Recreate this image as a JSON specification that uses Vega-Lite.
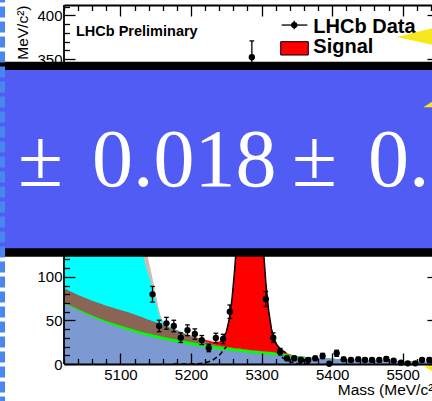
{
"$schema":"https://vega.github.io/schema/vega-lite/v6.json",
"width":374,"height":359,
"autosize":{"type":"none"},
"padding":{"left":64,"top":5,"right":-6,"bottom":37},
"background":"white",
"config":{
  "view":{"stroke":null},
  "axis":{"grid":false,"domainColor":"black","domainWidth":1.8,"tickColor":"black","tickWidth":1.3,"labelColor":"black","titleColor":"black","labelFont":"Liberation Sans","titleFont":"Liberation Sans","labelFontSize":15,"titleFontSize":15.5,"titleFontWeight":"normal","labelOverlap":false,"labelFlush":false}
},
"datasets":{
"curves":[
{"m":5020,"blue":70.0,"green":71.0,"brown":87.0,"cyan":170,"grey":175},
{"m":5040,"blue":61.5,"green":62.8,"brown":79.3,"cyan":195,"grey":200},
{"m":5060,"blue":54.0,"green":55.7,"brown":72.7,"cyan":215,"grey":220},
{"m":5080,"blue":47.4,"green":49.4,"brown":66.9,"cyan":228,"grey":233},
{"m":5100,"blue":41.6,"green":44.1,"brown":62.1,"cyan":230,"grey":236},
{"m":5110,"blue":39.0,"green":41.6,"brown":59.6,"cyan":222,"grey":230},
{"m":5115,"blue":37.8,"green":40.4,"brown":58.2,"cyan":208,"grey":220},
{"m":5120,"blue":36.5,"green":39.2,"brown":56.7,"cyan":188,"grey":204},
{"m":5125,"blue":35.4,"green":38.1,"brown":55.3,"cyan":162,"grey":183},
{"m":5130,"blue":34.2,"green":37.0,"brown":53.8,"cyan":133,"grey":158},
{"m":5133,"blue":33.6,"green":36.4,"brown":53.0,"cyan":121,"grey":144},
{"m":5136,"blue":32.9,"green":35.7,"brown":52.0,"cyan":112,"grey":132},
{"m":5139,"blue":32.3,"green":35.2,"brown":51.2,"cyan":104,"grey":122},
{"m":5142,"blue":31.7,"green":34.6,"brown":50.3,"cyan":97,"grey":111},
{"m":5145,"blue":31.1,"green":34.0,"brown":49.4,"cyan":89,"grey":100},
{"m":5148,"blue":30.5,"green":33.5,"brown":48.6,"cyan":79,"grey":88},
{"m":5151,"blue":29.9,"green":32.9,"brown":47.6,"cyan":68,"grey":76},
{"m":5154,"blue":29.3,"green":32.3,"brown":46.6,"cyan":58,"grey":64},
{"m":5157,"blue":28.7,"green":31.7,"brown":45.7,"cyan":51,"grey":55},
{"m":5160,"blue":28.2,"green":31.2,"brown":44.7,"cyan":47,"grey":49},
{"m":5165,"blue":27.3,"green":30.4,"brown":43.2,"cyan":44.2,"grey":45},
{"m":5170,"blue":26.4,"green":29.6,"brown":41.6,"cyan":42.4,"grey":42.8},
{"m":5175,"blue":25.6,"green":28.8,"brown":40.0,"cyan":40.7,"grey":41.0},
{"m":5180,"blue":24.7,"green":28.0,"brown":38.4,"cyan":39.0,"grey":39.2},
{"m":5190,"blue":23.2,"green":26.6,"brown":35.1,"cyan":35.5,"grey":35.6},
{"m":5195,"blue":22.4,"green":25.9,"brown":33.4,"cyan":33.7,"grey":33.8,"tot":34.1},
{"m":5200,"blue":21.7,"green":25.2,"brown":31.7,"cyan":32.0,"grey":32.1,"tot":32.6},
{"m":5210,"blue":20.4,"green":23.9,"brown":28.4,"cyan":28.6,"grey":28.6,"tot":29.8},
{"m":5220,"blue":19.1,"green":22.6,"brown":25.6,"cyan":25.7,"grey":25.7,"tot":27.7},
{"m":5230,"blue":17.9,"green":21.4,"brown":23.2,"cyan":23.2,"grey":23.2,"tot":25.8},
{"m":5235,"blue":17.3,"green":20.8,"brown":22.1,"cyan":22.1,"grey":22.1,"tot":25.3},
{"m":5240,"blue":16.7,"green":20.2,"brown":21.2,"cyan":21.2,"grey":21.2,"tot":25.8},
{"m":5245,"blue":16.2,"green":19.7,"brown":20.4,"cyan":20.4,"grey":20.4,"tot":28.5},
{"m":5250,"blue":15.7,"green":19.2,"brown":19.7,"cyan":19.7,"grey":19.7,"tot":36.7},
{"m":5254,"blue":15.3,"green":18.8,"brown":19.2,"cyan":19.2,"grey":19.2,"tot":50.5},
{"m":5258,"blue":14.9,"green":18.4,"brown":18.7,"cyan":18.7,"grey":18.7,"tot":73.9},
{"m":5262,"blue":14.5,"green":18.0,"brown":18.2,"cyan":18.2,"grey":18.2,"tot":109.5},
{"m":5266,"blue":14.1,"green":17.6,"brown":17.7,"cyan":17.7,"grey":17.7,"tot":156.7},
{"m":5270,"blue":13.8,"green":17.3,"brown":17.4,"cyan":17.4,"grey":17.4,"tot":212.4},
{"m":5274,"blue":13.4,"green":16.9,"brown":16.9,"cyan":16.9,"grey":16.9,"tot":267.9},
{"m":5278,"blue":13.1,"green":16.6,"brown":16.6,"cyan":16.6,"grey":16.6,"tot":312.6},
{"m":5282,"blue":12.7,"green":16.2,"brown":16.2,"cyan":16.2,"grey":16.2,"tot":335.7},
{"m":5286,"blue":12.4,"green":15.9,"brown":15.9,"cyan":15.9,"grey":15.9,"tot":331.3},
{"m":5290,"blue":12.1,"green":15.6,"brown":15.6,"cyan":15.6,"grey":15.6,"tot":300.9},
{"m":5294,"blue":11.8,"green":15.3,"brown":15.3,"cyan":15.3,"grey":15.3,"tot":251.3},
{"m":5298,"blue":11.5,"green":15.0,"brown":15.0,"cyan":15.0,"grey":15.0,"tot":193.5},
{"m":5302,"blue":11.2,"green":14.7,"brown":14.7,"cyan":14.7,"grey":14.7,"tot":138.3},
{"m":5306,"blue":10.9,"green":14.4,"brown":14.4,"cyan":14.4,"grey":14.4,"tot":93.4},
{"m":5310,"blue":10.6,"green":14.1,"brown":14.1,"cyan":14.1,"grey":14.1,"tot":61.3},
{"m":5314,"blue":10.4,"green":13.9,"brown":13.9,"cyan":13.9,"grey":13.9,"tot":40.2},
{"m":5318,"blue":10.1,"green":13.6,"brown":13.6,"cyan":13.6,"grey":13.6,"tot":28.2},
{"m":5322,"blue":9.8,"green":13.3,"brown":13.3,"cyan":13.3,"grey":13.3,"tot":21.4},
{"m":5326,"blue":9.6,"green":13.1,"brown":13.1,"cyan":13.1,"grey":13.1,"tot":17.7},
{"m":5330,"blue":9.3,"green":12.3,"brown":12.3,"cyan":12.3,"grey":12.3,"tot":15.1},
{"m":5335,"blue":9.0,"green":11.5,"brown":11.5,"cyan":11.5,"grey":11.5,"tot":12.7},
{"m":5340,"blue":8.7,"green":10.7,"brown":10.7,"cyan":10.7,"grey":10.7,"tot":11.2},
{"m":5345,"blue":8.5,"green":10.0,"brown":10.0,"cyan":10.0,"grey":10.0,"tot":10.1},
{"m":5350,"blue":8.2,"green":9.2,"brown":9.2,"cyan":9.2,"grey":9.2},
{"m":5360,"blue":7.7,"green":8.2,"brown":8.2,"cyan":8.2,"grey":8.2},
{"m":5370,"blue":7.2,"green":7.2,"brown":7.2,"cyan":7.2,"grey":7.2},
{"m":5380,"blue":6.7,"green":6.7,"brown":6.7,"cyan":6.7,"grey":6.7},
{"m":5400,"blue":5.9,"green":5.9,"brown":5.9,"cyan":5.9,"grey":5.9},
{"m":5420,"blue":5.2,"green":5.2,"brown":5.2,"cyan":5.2,"grey":5.2},
{"m":5440,"blue":4.5,"green":4.5,"brown":4.5,"cyan":4.5,"grey":4.5},
{"m":5460,"blue":4.0,"green":4.0,"brown":4.0,"cyan":4.0,"grey":4.0},
{"m":5480,"blue":3.5,"green":3.5,"brown":3.5,"cyan":3.5,"grey":3.5},
{"m":5500,"blue":3.1,"green":3.1,"brown":3.1,"cyan":3.1,"grey":3.1},
{"m":5520,"blue":2.7,"green":2.7,"brown":2.7,"cyan":2.7,"grey":2.7},
{"m":5550,"blue":2.2,"green":2.2,"brown":2.2,"cyan":2.2,"grey":2.2}
],
"dash":[
{"m":5175,"d":0},{"m":5190,"d":0.05},{"m":5200,"d":0.1},{"m":5210,"d":0.4},{"m":5220,"d":1.3},{"m":5230,"d":4.0},{"m":5240,"d":9.8},{"m":5250,"d":20},{"m":5260,"d":33.8},{"m":5270,"d":47.4},{"m":5280,"d":55},{"m":5290,"d":53},{"m":5300,"d":42.3},{"m":5310,"d":28},{"m":5320,"d":15.4},{"m":5330,"d":7.0},{"m":5340,"d":2.6},{"m":5350,"d":0.8},{"m":5360,"d":0.2},{"m":5370,"d":0}
],
"pts":[
{"m":5145.4,"v":80,"lo":71,"hi":89},
{"m":5154.8,"v":43.6,"lo":37.0,"hi":50.2},
{"m":5165.2,"v":46.7,"lo":39.9,"hi":53.5},
{"m":5175.6,"v":43.6,"lo":37.0,"hi":50.2},
{"m":5185.5,"v":30.2,"lo":24.7,"hi":35.7},
{"m":5195.0,"v":38.7,"lo":32.5,"hi":44.9},
{"m":5205.4,"v":34.4,"lo":28.5,"hi":40.3},
{"m":5215.3,"v":27.5,"lo":22.3,"hi":32.7},
{"m":5225.2,"v":18.4,"lo":14.1,"hi":22.7},
{"m":5235.2,"v":29.8,"lo":24.3,"hi":35.3},
{"m":5245.5,"v":28.7,"lo":23.3,"hi":34.1},
{"m":5255.0,"v":60.0,"lo":52.3,"hi":67.7},
{"m":5265.5,"v":160,"lo":147.4,"hi":172.6},
{"m":5276.0,"v":270,"lo":253.6,"hi":286.4},
{"m":5286.2,"v":352,"lo":333.2,"hi":370.8},
{"m":5296.0,"v":235,"lo":219.7,"hi":250.3},
{"m":5306.0,"v":74.6,"lo":66.0,"hi":83.2},
{"m":5316.5,"v":30.2,"lo":24.7,"hi":35.7},
{"m":5326.4,"v":14.1,"lo":10.3,"hi":17.9},
{"m":5335.9,"v":6.5,"lo":4.0,"hi":9.0},
{"m":5346.2,"v":6.5,"lo":4.0,"hi":9.0},
{"m":5355.7,"v":4.6,"lo":2.5,"hi":6.7},
{"m":5366.0,"v":4.6,"lo":2.5,"hi":6.7},
{"m":5376.0,"v":6.5,"lo":4.0,"hi":9.0},
{"m":5386.5,"v":9.2,"lo":6.2,"hi":12.2},
{"m":5395.9,"v":0.3,"lo":0,"hi":1.5},
{"m":5406.4,"v":12.3,"lo":8.8,"hi":15.8},
{"m":5416.3,"v":5.4,"lo":3.1,"hi":7.7},
{"m":5426.7,"v":4.6,"lo":2.5,"hi":6.7},
{"m":5437.0,"v":5.4,"lo":3.1,"hi":7.7},
{"m":5446.5,"v":4.6,"lo":2.5,"hi":6.7},
{"m":5456.5,"v":4.6,"lo":2.5,"hi":6.7},
{"m":5466.8,"v":4.6,"lo":2.5,"hi":6.7},
{"m":5476.7,"v":5.7,"lo":3.3,"hi":8.1},
{"m":5487.2,"v":3.8,"lo":1.8,"hi":5.8},
{"m":5497.6,"v":1.5,"lo":0.3,"hi":2.7},
{"m":5507.1,"v":0.8,"lo":0,"hi":1.8},
{"m":5517.9,"v":0.8,"lo":0,"hi":1.8},
{"m":5527.4,"v":4.6,"lo":2.5,"hi":6.7},
{"m":5537.7,"v":4.6,"lo":2.5,"hi":6.7},
{"m":5548.0,"v":3.0,"lo":1.3,"hi":4.7}
],
"one":[{}]
},
"layer":[
{"data":{"name":"curves"},"mark":{"type":"area","color":"#cbbdb4"},
 "encoding":{
  "x":{"field":"m","type":"quantitative","scale":{"domain":[5020,5550],"nice":false,"zero":false},
   "axis":{"orient":"bottom","values":[5100,5200,5300,5400,5500],"format":"d","tickSize":-11,"labelPadding":14,"domain":true,"zindex":1,"title":"Mass (MeV/c²)","titleAnchor":"end","titlePadding":0}},
  "y":{"field":"grey","type":"quantitative","scale":{"domain":[0,412],"nice":false,"zero":false},
   "axis":{"orient":"left","values":[0,50,100,350,400],"tickSize":-11,"labelPadding":13,"domain":false,"zindex":1,"title":null}}}},
{"data":{"name":"curves"},"mark":{"type":"area","color":"#00ffff"},
 "encoding":{
  "x":{"field":"m","type":"quantitative","scale":{"domain":[5020,5550],"nice":false,"zero":false},
   "axis":{"orient":"bottom","values":[5020,5040,5060,5080,5120,5140,5160,5180,5220,5240,5260,5280,5320,5340,5360,5380,5420,5440,5460,5480,5520,5540],"tickSize":-5.5,"labels":false,"domain":false,"zindex":1,"title":null}},
  "y":{"field":"cyan","type":"quantitative","scale":{"domain":[0,412],"nice":false,"zero":false},
   "axis":{"orient":"left","values":[10,20,30,40,60,70,80,90,110,120,360,370,380,390,410],"tickSize":-5.5,"labels":false,"domain":false,"zindex":1,"title":null}}}},
{"data":{"name":"curves"},"mark":{"type":"area","color":"#8a6454"},
 "encoding":{
  "x":{"field":"m","type":"quantitative","scale":{"domain":[5020,5550],"nice":false,"zero":false},
   "axis":{"orient":"top","values":[5100,5200,5300,5400,5500],"tickSize":-11,"labels":false,"domain":true,"zindex":1,"title":null}},
  "y":{"field":"brown","type":"quantitative","scale":{"domain":[0,412],"nice":false,"zero":false},
   "axis":{"orient":"right","values":[0,50,100,350,400],"tickSize":-11,"labels":false,"domain":false,"zindex":1,"title":null}}}},
{"data":{"name":"curves"},"mark":{"type":"area","color":"#00ff00"},
 "encoding":{
  "x":{"field":"m","type":"quantitative","scale":{"domain":[5020,5550],"nice":false,"zero":false},
   "axis":{"orient":"top","values":[5020,5040,5060,5080,5120,5140,5160,5180,5220,5240,5260,5280,5320,5340,5360,5380,5420,5440,5460,5480,5520,5540],"tickSize":-5.5,"labels":false,"domain":false,"zindex":1,"title":null}},
  "y":{"field":"green","type":"quantitative","scale":{"domain":[0,412],"nice":false,"zero":false},
   "axis":{"orient":"right","values":[10,20,30,40,60,70,80,90,110,120,360,370,380,390,410],"tickSize":-5.5,"labels":false,"domain":false,"zindex":1,"title":null}}}},
{"data":{"name":"curves"},"mark":{"type":"area","color":"#7c99d1"},
 "encoding":{
  "x":{"field":"m","type":"quantitative","scale":{"domain":[5020,5550],"nice":false,"zero":false},"axis":null},
  "y":{"field":"blue","type":"quantitative","scale":{"domain":[0,412],"nice":false,"zero":false},
   "axis":{"orient":"left","ticks":false,"labels":false,"domain":false,"zindex":0,"title":"Events / ( 10 MeV/c²)","titleAnchor":"end","titleBaseline":"alphabetic","titlePadding":37}}}},
{"data":{"name":"dash"},"mark":{"type":"line","color":"black","strokeWidth":1.5,"strokeDash":[5,3]},
 "encoding":{
  "x":{"field":"m","type":"quantitative","axis":null},
  "y":{"field":"d","type":"quantitative","axis":null}}},
{"data":{"name":"curves"},"transform":[{"filter":"isValid(datum.tot)"}],"mark":{"type":"area","color":"#ff0000"},
 "encoding":{
  "x":{"field":"m","type":"quantitative","axis":null},
  "y":{"field":"tot","type":"quantitative","axis":null},
  "y2":{"field":"grey"}}},
{"data":{"name":"curves"},"transform":[{"filter":"isValid(datum.tot) && datum.m >= 5245 && datum.m <= 5335"}],"mark":{"type":"line","color":"black","strokeWidth":1.5},
 "encoding":{
  "x":{"field":"m","type":"quantitative","axis":null},
  "y":{"field":"tot","type":"quantitative","axis":null}}},
{"data":{"name":"pts"},"mark":{"type":"rule","color":"black","strokeWidth":1.3},
 "encoding":{
  "x":{"field":"m","type":"quantitative","axis":null},
  "y":{"field":"lo","type":"quantitative","axis":null},
  "y2":{"field":"hi"}}},
{"data":{"name":"pts"},"mark":{"type":"point","shape":"stroke","size":22,"color":"black","strokeWidth":1.3,"opacity":1},
 "encoding":{
  "x":{"field":"m","type":"quantitative","axis":null},
  "y":{"field":"lo","type":"quantitative","axis":null}}},
{"data":{"name":"pts"},"mark":{"type":"point","shape":"stroke","size":22,"color":"black","strokeWidth":1.3,"opacity":1},
 "encoding":{
  "x":{"field":"m","type":"quantitative","axis":null},
  "y":{"field":"hi","type":"quantitative","axis":null}}},
{"data":{"name":"pts"},"mark":{"type":"point","shape":"circle","filled":true,"size":40,"color":"black","opacity":1},
 "encoding":{
  "x":{"field":"m","type":"quantitative","axis":null},
  "y":{"field":"v","type":"quantitative","axis":null}}},
{"data":{"name":"one"},"mark":{"type":"rule","color":"black","strokeWidth":1.8},
 "encoding":{"x":{"datum":5020,"axis":null}}},
{"data":{"name":"one"},"mark":{"type":"rule","color":"black","strokeWidth":1.3},
 "encoding":{"x":{"datum":5328.5,"axis":null},"x2":{"datum":5364.8},"y":{"datum":389.0,"axis":null}}},
{"data":{"name":"one"},"mark":{"type":"rule","color":"black","strokeWidth":1.3},
 "encoding":{"x":{"datum":5346.3,"axis":null},"y":{"datum":384.1,"axis":null},"y2":{"datum":393.9}}},
{"data":{"name":"one"},"mark":{"type":"point","shape":"circle","filled":true,"size":40,"color":"black","opacity":1},
 "encoding":{"x":{"datum":5346.3,"axis":null},"y":{"datum":389.0,"axis":null}}},
{"data":{"name":"one"},"mark":{"type":"rect","fill":"#ff0000","stroke":"black","strokeWidth":1},
 "encoding":{"x":{"datum":5327.1,"axis":null},"x2":{"datum":5366.2},"y":{"datum":354.6,"axis":null},"y2":{"datum":369.9}}},
{"data":{"name":"one"},"mark":{"type":"text","text":"LHCb Data","align":"left","baseline":"alphabetic","font":"Liberation Sans","fontWeight":"bold","fontSize":20,"color":"black"},
 "encoding":{"x":{"datum":5373.3,"axis":null},"y":{"datum":380.2,"axis":null}}},
{"data":{"name":"one"},"mark":{"type":"text","text":"Signal","align":"left","baseline":"alphabetic","font":"Liberation Sans","fontWeight":"bold","fontSize":20,"color":"black"},
 "encoding":{"x":{"datum":5373.3,"axis":null},"y":{"datum":356.6,"axis":null}}},
{"data":{"name":"one"},"mark":{"type":"text","text":"LHCb Preliminary","align":"left","baseline":"alphabetic","font":"Liberation Sans","fontWeight":"bold","fontSize":14.5,"color":"black"},
 "encoding":{"x":{"datum":5037.0,"axis":null},"y":{"datum":376.4,"axis":null}}},
{"data":{"name":"one"},"mark":{"type":"point","shape":"M -1.165 0 L 2 -0.79 L 2 0.705 Z","size":1600,"filled":true,"color":"#f8e71c","opacity":1,"strokeWidth":0},
 "encoding":{"x":{"datum":5524.5,"axis":null},"y":{"datum":375.3,"axis":null}}},
{"data":{"name":"one"},"mark":{"type":"rect","fill":"black"},
 "encoding":{"x":{"datum":4900,"axis":null},"x2":{"datum":5620},"y":{"datum":123.1,"axis":null},"y2":{"datum":346.9}}},
{"data":{"name":"one"},"mark":{"type":"rect","fill":"#515cf4"},
 "encoding":{"x":{"datum":4900,"axis":null},"x2":{"datum":5620},"y":{"datum":132.8,"axis":null},"y2":{"datum":337.4}}},
{"data":{"name":"one"},"mark":{"type":"text","text":"±","align":"left","baseline":"alphabetic","font":"Liberation Serif","fontSize":82,"color":"white"},
 "encoding":{"x":{"datum":4954.8,"axis":null},"y":{"datum":204.3,"axis":null}}},
{"data":{"name":"one"},"mark":{"type":"text","text":"0.018","align":"left","baseline":"alphabetic","font":"Liberation Serif","fontSize":82,"color":"white"},
 "encoding":{"x":{"datum":5059.7,"axis":null},"y":{"datum":204.3,"axis":null}}},
{"data":{"name":"one"},"mark":{"type":"text","text":"±","align":"left","baseline":"alphabetic","font":"Liberation Serif","fontSize":82,"color":"white"},
 "encoding":{"x":{"datum":5343.1,"axis":null},"y":{"datum":204.3,"axis":null}}},
{"data":{"name":"one"},"mark":{"type":"text","text":"0.","align":"left","baseline":"alphabetic","font":"Liberation Serif","fontSize":82,"color":"white"},
 "encoding":{"x":{"datum":5450.8,"axis":null},"y":{"datum":204.3,"axis":null}}},
{"data":{"name":"one"},"mark":{"type":"point","shape":"M -0.87 0.33 L 1.8 -1.39 L 1.8 0.33 Z","size":400,"filled":true,"color":"#f8e71c","opacity":1,"strokeWidth":0},
 "encoding":{"x":{"datum":5541.5,"axis":null},"y":{"datum":298.4,"axis":null}}},
{"data":{"name":"one"},"mark":{"type":"point","shape":"M -0.8 -0.13 L 1.8 -0.68 L 1.8 1.27 Z","size":400,"filled":true,"color":"#f8e71c","opacity":1,"strokeWidth":0},
 "encoding":{"x":{"datum":5541.5,"axis":null},"y":{"datum":-4.6,"axis":null}}},
{"data":{"name":"one"},"mark":{"type":"rule","color":"#4a86f0","strokeWidth":5,"strokeDash":[11,4]},
 "encoding":{"x":{"datum":4932.9,"axis":null},"y":{"datum":-50,"axis":null},"y2":{"datum":460}}}
],
"resolve":{"axis":{"x":"independent","y":"independent"}}
}
